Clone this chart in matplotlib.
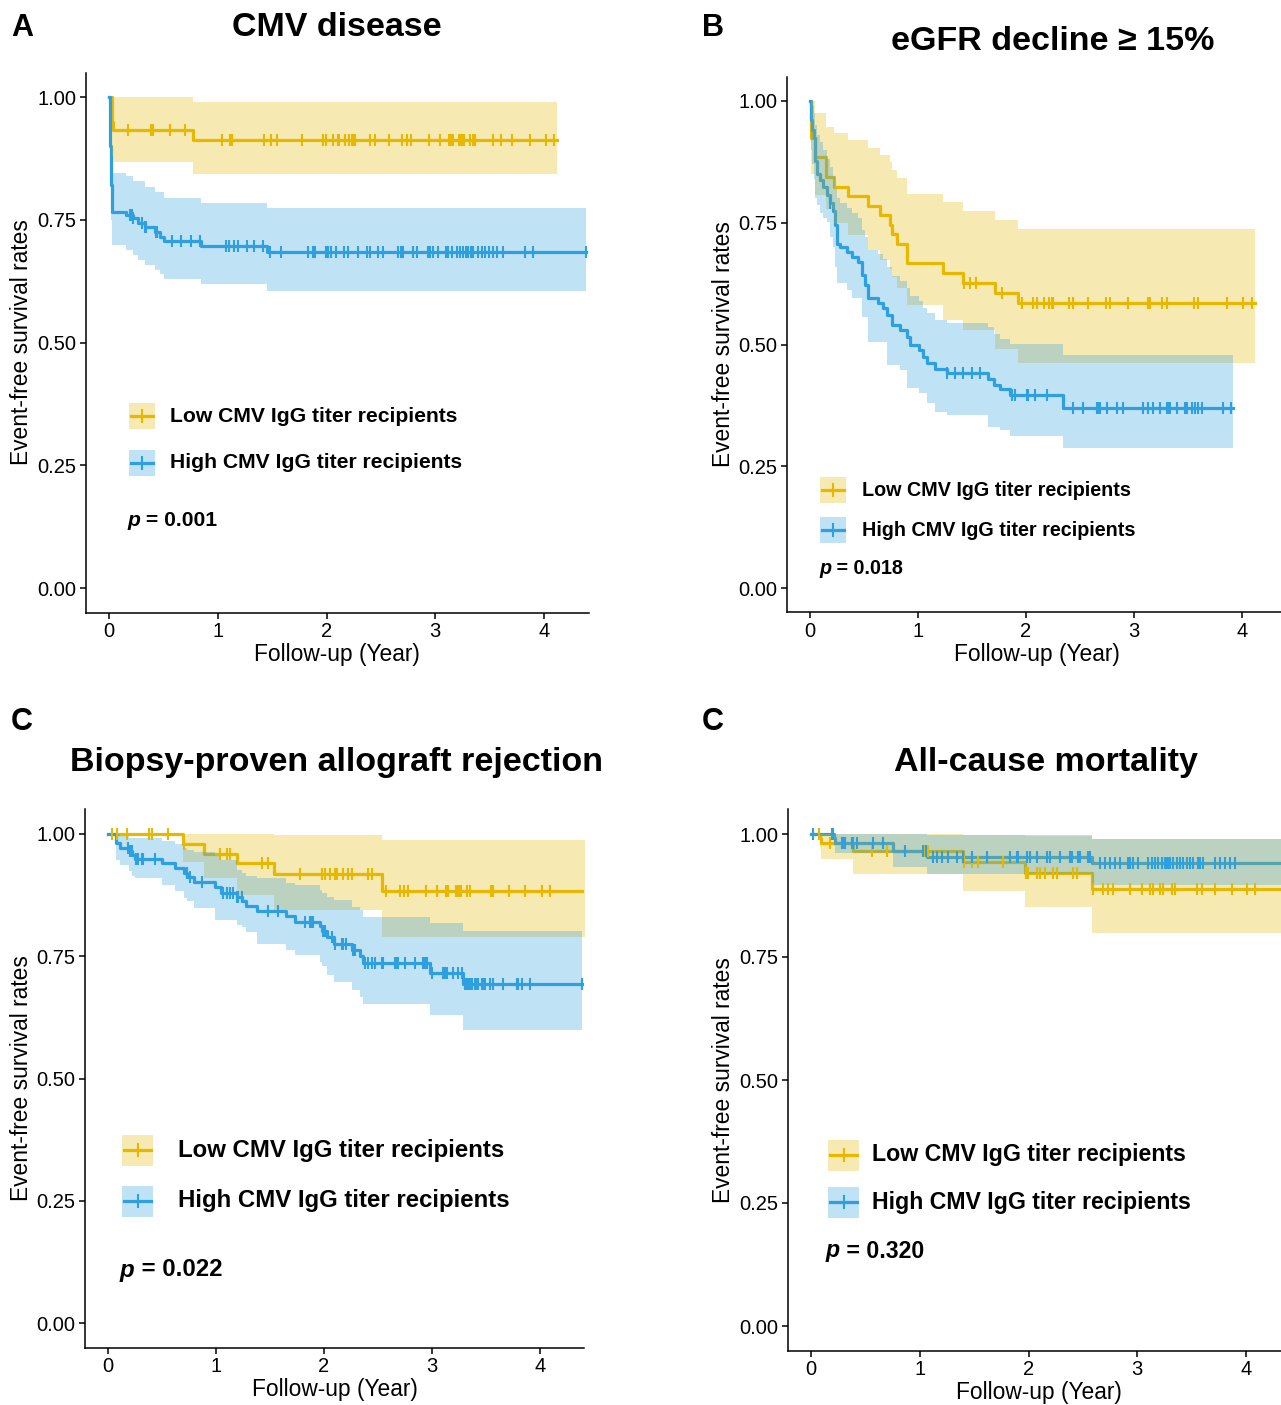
import numpy as np
import matplotlib
matplotlib.use("Agg")
import matplotlib.pyplot as plt
import matplotlib.transforms as mtransforms
from matplotlib.patches import Rectangle
from matplotlib.lines import Line2D

plt.rcParams["font.family"] = ["Liberation Sans", "DejaVu Sans"]

LOW_COL = "#E7B800"
HIGH_COL = "#2E9FDF"
W, H = 1281, 1405

labels = ["Low CMV IgG titer recipients", "High CMV IgG titer recipients"]
titles = ["CMV disease", "eGFR decline \u2265 15%",
          "Biopsy-proven allograft rejection", "All-cause mortality"]
letters = ["A", "B", "C", "C"]
pvalues = ["0.001", "0.018", "0.022", "0.320"]
yticks = [0.0, 0.25, 0.5, 0.75, 1.0]
ytick_labels = ["0.00", "0.25", "0.50", "0.75", "1.00"]
xticks = [0, 1, 2, 3, 4]

# ---- A: CMV disease
a_low_t = [0, 0.025, 0.04, 0.775]
a_low_s = [1, 0.950, 0.932, 0.912]
a_low_hi = [1, 1, 1, 0.989]
a_low_lo = [1, 0.880, 0.868, 0.843]
a_low_end = 4.12
a_low_cens = [0.178, 0.386, 0.402, 0.561, 0.702, 1.036, 1.113, 1.131, 1.428, 1.487,
              1.542, 1.778, 1.971, 1.995, 2.063, 2.103, 2.118, 2.170, 2.210, 2.231,
              2.247, 2.262, 2.400, 2.446, 2.578, 2.697, 2.737, 2.777, 2.943, 3.044,
              3.126, 3.142, 3.160, 3.221, 3.237, 3.252, 3.267, 3.320, 3.344, 3.366,
              3.534, 3.602, 3.709, 3.871, 4.018, 4.092]

a_high_t = [0, 0.005, 0.01, 0.015, 0.02, 0.025, 0.03, 0.16, 0.22, 0.27, 0.33, 0.42,
            0.47, 0.51, 0.85, 1.45]
a_high_s = [1, 0.95, 0.90, 0.86, 0.82, 0.79, 0.766, 0.760, 0.753, 0.743, 0.735, 0.726,
            0.715, 0.707, 0.697, 0.685]
a_high_hi = [1, 0.99, 0.96, 0.93, 0.90, 0.87, 0.846, 0.839, 0.829, 0.829, 0.817, 0.807,
             0.807, 0.794, 0.785, 0.775]
a_high_lo = [1, 0.90, 0.84, 0.79, 0.75, 0.72, 0.699, 0.688, 0.678, 0.668, 0.658, 0.648,
             0.640, 0.629, 0.619, 0.606]
a_high_end = 4.39
a_high_cens = [0.193, 0.208, 0.224, 0.300, 0.331, 0.340, 0.432, 0.444, 0.576, 0.659,
               0.754, 0.84, 1.073, 1.107, 1.149, 1.189, 1.266, 1.336, 1.413, 1.48,
               1.579, 1.827, 1.879, 1.894, 1.992, 2.017, 2.038, 2.087, 2.164, 2.195,
               2.287, 2.369, 2.400, 2.471, 2.523, 2.661, 2.682, 2.707, 2.798, 2.835,
               2.930, 2.952, 2.976, 3.022, 3.099, 3.120, 3.151, 3.197, 3.228, 3.258,
               3.283, 3.304, 3.326, 3.350, 3.396, 3.427, 3.457, 3.497, 3.534, 3.565,
               3.626, 3.825, 3.902, 4.386]

# ---- B: eGFR decline
b_low_t = [0, 0.005, 0.046, 0.148, 0.22, 0.349, 0.54, 0.648, 0.741, 0.76, 0.802,
           0.901, 1.228, 1.414, 1.713, 1.929]
b_low_s = [1, 0.923, 0.884, 0.843, 0.824, 0.805, 0.784, 0.765, 0.745, 0.726, 0.706,
           0.667, 0.647, 0.626, 0.605, 0.585]
b_low_hi = [1, 1.0, 0.975, 0.947, 0.935, 0.920, 0.904, 0.889, 0.874, 0.858, 0.842,
            0.809, 0.792, 0.775, 0.756, 0.737]
b_low_lo = [1, 0.851, 0.807, 0.779, 0.75, 0.725, 0.694, 0.673, 0.655, 0.639, 0.615,
            0.581, 0.55, 0.53, 0.49, 0.463]
b_low_end = 4.12
b_low_cens = [1.43, 1.48, 1.54, 1.775, 1.966, 2.068, 2.099, 2.17, 2.216, 2.238, 2.253,
              2.401, 2.438, 2.577, 2.741, 2.778, 2.941, 3.127, 3.148, 3.256, 3.309,
              3.559, 3.596, 3.864, 4.012, 4.09]

b_high_t = [0, 0.01, 0.02, 0.037, 0.046, 0.068, 0.09, 0.123, 0.154, 0.185, 0.216,
            0.232, 0.247, 0.278, 0.34, 0.386, 0.448, 0.478, 0.509, 0.54, 0.633, 0.679,
            0.71, 0.756, 0.833, 0.895, 0.926, 1.012, 1.049, 1.08, 1.157, 1.265, 1.651,
            1.70, 1.759, 1.852, 2.346]
b_high_s = [1, 0.96, 0.94, 0.923, 0.877, 0.851, 0.838, 0.824, 0.807, 0.79, 0.775,
            0.745, 0.707, 0.700, 0.690, 0.680, 0.670, 0.643, 0.622, 0.595, 0.585, 0.575,
            0.561, 0.540, 0.530, 0.516, 0.499, 0.489, 0.475, 0.462, 0.449, 0.441, 0.430,
            0.417, 0.408, 0.396, 0.369]
b_high_hi = [1, 1.0, 0.99, 0.975, 0.95, 0.93, 0.915, 0.90, 0.88, 0.865, 0.845, 0.82,
             0.80, 0.79, 0.78, 0.77, 0.76, 0.735, 0.72, 0.695, 0.685, 0.675, 0.66,
             0.64, 0.63, 0.615, 0.60, 0.59, 0.575, 0.565, 0.55, 0.545, 0.535, 0.522,
             0.512, 0.502, 0.478]
b_high_lo = [1, 0.90, 0.87, 0.84, 0.80, 0.786, 0.77, 0.76, 0.752, 0.72, 0.70, 0.66,
             0.626, 0.626, 0.612, 0.595, 0.595, 0.557, 0.557, 0.506, 0.506, 0.506,
             0.458, 0.458, 0.447, 0.41, 0.41, 0.40, 0.40, 0.38, 0.362, 0.355, 0.331,
             0.331, 0.325, 0.313, 0.287]
b_high_end = 3.92
b_high_cens = [0.185, 1.27, 1.343, 1.414, 1.497, 1.574, 1.867, 1.898, 2.006, 2.022,
               2.083, 2.191, 2.438, 2.531, 2.654, 2.670, 2.685, 2.747, 2.84, 2.901,
               3.086, 3.133, 3.179, 3.241, 3.302, 3.318, 3.333, 3.395, 3.472, 3.488,
               3.534, 3.565, 3.596, 3.627, 3.827, 3.895]

# ---- C: biopsy-proven rejection
c_low_t = [0, 0.69, 0.89, 1.19, 1.54, 2.54]
c_low_s = [1, 0.980, 0.960, 0.940, 0.918, 0.883]
c_low_hi = [1, 1.0, 1.0, 1.0, 0.998, 0.988]
c_low_lo = [1, 0.943, 0.909, 0.875, 0.845, 0.790]
c_low_end = 4.42
c_low_cens = [0.034, 0.080, 0.173, 0.383, 0.404, 0.559, 0.70, 1.037, 1.099, 1.130,
              1.423, 1.485, 1.778, 1.978, 2.009, 2.056, 2.102, 2.117, 2.179, 2.225,
              2.256, 2.410, 2.441, 2.574, 2.704, 2.741, 2.781, 2.944, 3.049, 3.127,
              3.145, 3.222, 3.238, 3.253, 3.269, 3.321, 3.352, 3.546, 3.568, 3.713,
              3.861, 4.015, 4.093]

c_high_t = [0, 0.075, 0.11, 0.19, 0.22, 0.25, 0.50, 0.62, 0.70, 0.73, 0.80, 0.99,
            1.05, 1.19, 1.24, 1.28, 1.38, 1.65, 1.73, 1.96, 1.98, 2.03, 2.09, 2.26,
            2.33, 2.36, 2.98, 3.29]
c_high_s = [1, 0.981, 0.972, 0.965, 0.957, 0.948, 0.940, 0.931, 0.920, 0.911, 0.902,
            0.892, 0.879, 0.872, 0.863, 0.852, 0.843, 0.833, 0.821, 0.811, 0.802,
            0.790, 0.776, 0.763, 0.750, 0.736, 0.716, 0.693]
c_high_hi = [1, 1.0, 0.995, 0.991, 0.991, 0.991, 0.986, 0.98, 0.971, 0.968, 0.964,
             0.955, 0.947, 0.926, 0.92, 0.914, 0.910, 0.899, 0.895, 0.885, 0.880,
             0.872, 0.865, 0.851, 0.845, 0.831, 0.817, 0.802]
c_high_lo = [1, 0.947, 0.936, 0.925, 0.915, 0.909, 0.896, 0.884, 0.870, 0.862, 0.848,
             0.824, 0.824, 0.814, 0.810, 0.800, 0.776, 0.763, 0.753, 0.739, 0.730,
             0.712, 0.698, 0.681, 0.666, 0.652, 0.630, 0.599]
c_high_end = 4.39
c_high_cens = [0.188, 0.204, 0.219, 0.26, 0.281, 0.312, 0.327, 0.435, 0.728, 0.759,
               0.867, 1.068, 1.099, 1.130, 1.160, 1.191, 1.207, 1.238, 1.485, 1.577,
               1.824, 1.870, 1.886, 1.901, 1.994, 2.01, 2.071, 2.102, 2.164, 2.179,
               2.204, 2.272, 2.287, 2.380, 2.410, 2.441, 2.472, 2.534, 2.549, 2.657,
               2.673, 2.688, 2.750, 2.843, 2.920, 2.935, 2.951, 2.997, 3.105, 3.120,
               3.136, 3.198, 3.244, 3.275, 3.306, 3.321, 3.336, 3.352, 3.367, 3.398,
               3.414, 3.429, 3.460, 3.475, 3.491, 3.537, 3.568, 3.660, 3.784, 3.799,
               3.830, 3.907, 4.386]

# ---- D: all-cause mortality
d_low_t = [0, 0.083, 0.09, 0.39, 1.40, 1.97, 2.58]
d_low_s = [1, 0.991, 0.981, 0.965, 0.944, 0.921, 0.888]
d_low_hi = [1, 1, 1, 1, 0.998, 0.995, 0.989]
d_low_lo = [1, 0.97, 0.949, 0.918, 0.885, 0.851, 0.798]
d_low_end = 4.42
d_low_cens = [0.077, 0.175, 0.558, 0.696, 1.05, 1.064, 1.08, 1.41, 1.477, 1.538,
              1.768, 1.975, 1.999, 2.075, 2.106, 2.152, 2.229, 2.259, 2.413, 2.443,
              2.59, 2.688, 2.734, 2.78, 2.933, 3.04, 3.117, 3.148, 3.209, 3.240,
              3.316, 3.347, 3.546, 3.592, 3.715, 3.868, 4.006, 4.083]

d_high_t = [0, 0.21, 0.22, 0.75, 1.07, 2.58]
d_high_s = [1, 0.992, 0.981, 0.965, 0.954, 0.942]
d_high_hi = [1, 1, 1, 1, 0.998, 0.989]
d_high_lo = [1, 0.975, 0.961, 0.932, 0.918, 0.896]
d_high_end = 4.42
d_high_cens = [0.02, 0.19, 0.205, 0.282, 0.297, 0.313, 0.374, 0.39, 0.42, 0.573,
               0.665, 0.864, 1.033, 1.06, 1.125, 1.155, 1.201, 1.263, 1.339, 1.400,
               1.477, 1.615, 1.830, 1.891, 1.907, 1.983, 2.014, 2.075, 2.167, 2.198,
               2.289, 2.381, 2.397, 2.458, 2.473, 2.550, 2.565, 2.657, 2.703, 2.75,
               2.795, 2.841, 2.918, 2.933, 2.964, 3.01, 3.102, 3.132, 3.163, 3.194,
               3.224, 3.255, 3.271, 3.286, 3.301, 3.332, 3.363, 3.393, 3.424, 3.455,
               3.485, 3.516, 3.562, 3.577, 3.608, 3.715, 3.761, 3.807, 3.853, 3.899]


def draw_curve(ax, t, s, hi, lo, end, cens, color):
    t_ext = np.append(t, end)
    s_ext = np.append(s, s[-1])
    # lines first, bands over them (as survminer does), censor ticks on top
    ax.step(t_ext, s_ext, where="post", color=color, lw=2.3, zorder=2)
    ax.fill_between(t_ext, np.append(lo, lo[-1]), np.append(hi, hi[-1]),
                    step="post", color=color, alpha=0.3, lw=0, zorder=3)
    idx = np.searchsorted(t, cens, side="right") - 1
    ax.plot(cens, np.asarray(s)[idx], ls="", marker="|", ms=9, mew=1.5,
            color=color, zorder=4)


def main():
    fig = plt.figure(figsize=(W / 100, H / 100), dpi=100)
    tr = mtransforms.Affine2D().scale(1 / W, -1 / H).translate(0, 1) + fig.transFigure

    curves = [
        [(a_low_t, a_low_s, a_low_hi, a_low_lo, a_low_end, a_low_cens),
         (a_high_t, a_high_s, a_high_hi, a_high_lo, a_high_end, a_high_cens)],
        [(b_low_t, b_low_s, b_low_hi, b_low_lo, b_low_end, b_low_cens),
         (b_high_t, b_high_s, b_high_hi, b_high_lo, b_high_end, b_high_cens)],
        [(c_low_t, c_low_s, c_low_hi, c_low_lo, c_low_end, c_low_cens),
         (c_high_t, c_high_s, c_high_hi, c_high_lo, c_high_end, c_high_cens)],
        [(d_low_t, d_low_s, d_low_hi, d_low_lo, d_low_end, d_low_cens),
         (d_high_t, d_high_s, d_high_hi, d_high_lo, d_high_end, d_high_cens)],
    ]
    # axes boxes in pixels: left, top, right, bottom
    boxes = [(86.2, 72.5, 588.6, 612.6), (787.3, 76.6, 1286.3, 612.4),
             (85.3, 809.5, 584.3, 1347.5), (788.2, 809.4, 1290.6, 1350.6)]
    title_pos = [(337, 27), (1053, 42), (337, 762), (1046, 762)]
    letter_pos = [(22, 28), (713, 28), (22, 722), (713, 722)]
    # legend: key left, key size, row centres, text x, font size, p position
    legends = [
        (129, 26, (416, 463), 170, 15.2, (127, 520)),
        (820, 26, (490, 530), 862, 14.2, (819, 569)),
        (122, 31, (1150, 1201), 178, 17.3, (120, 1270)),
        (828, 31, (1155, 1202), 872, 16.7, (826, 1251)),
    ]

    for i in range(4):
        l, t, r, b = boxes[i]
        ax = fig.add_axes([l / W, 1 - b / H, (r - l) / W, (b - t) / H])
        for (ct, cs, chi, clo, cend, ccens), col in zip(curves[i], [LOW_COL, HIGH_COL]):
            draw_curve(ax, ct, cs, chi, clo, cend, ccens, col)
        ax.set_xlim(-0.21, 4.41)
        ax.set_ylim(-0.05, 1.05)
        ax.set_xticks(xticks)
        ax.set_yticks(yticks)
        ax.set_yticklabels(ytick_labels)
        for side in ["top", "right"]:
            ax.spines[side].set_visible(False)
        for side in ["left", "bottom"]:
            ax.spines[side].set_linewidth(1.1)
        ax.tick_params(labelsize=14.5, length=4, width=1.1, pad=3, colors="black")
        ax.set_xlabel("Follow-up (Year)", fontsize=16.4, va="center")
        ax.set_ylabel("Event-free survival rates", fontsize=16.4, va="center")
        ax.xaxis.set_label_coords(0.5, -0.078)
        ax.yaxis.set_label_coords(-0.128, 0.5)

        fig.text(*title_pos[i], titles[i], transform=tr, ha="center", va="center",
                 fontsize=24.5, fontweight="bold")
        fig.text(*letter_pos[i], letters[i], transform=tr, ha="center", va="center",
                 fontsize=22, fontweight="bold")

        kx, ks, rows, tx, fs, (px, py) = legends[i]
        for yc, col, lab in zip(rows, [LOW_COL, HIGH_COL], labels):
            fig.add_artist(Rectangle((kx, yc - ks / 2), ks, ks, transform=tr,
                                     facecolor=col, alpha=0.3, lw=0))
            fig.add_artist(Line2D([kx + 2, kx + ks - 2], [yc, yc], transform=tr,
                                  color=col, lw=2.3))
            fig.add_artist(Line2D([kx + ks / 2] * 2, [yc - 6, yc + 6], transform=tr,
                                  color=col, lw=1.5))
            fig.text(tx, yc, lab, transform=tr, va="center", ha="left",
                     fontsize=fs, fontweight="bold")
        ptxt = fig.text(px, py, "p", transform=tr, va="center", ha="left",
                        fontsize=fs, fontweight="bold", style="italic")
        ax.annotate(" = " + pvalues[i], xy=(1, 0), xycoords=ptxt, va="bottom",
                    ha="left", fontsize=fs, fontweight="bold")

    fig.savefig("out.png", dpi=100)


if __name__ == "__main__":
    main()
